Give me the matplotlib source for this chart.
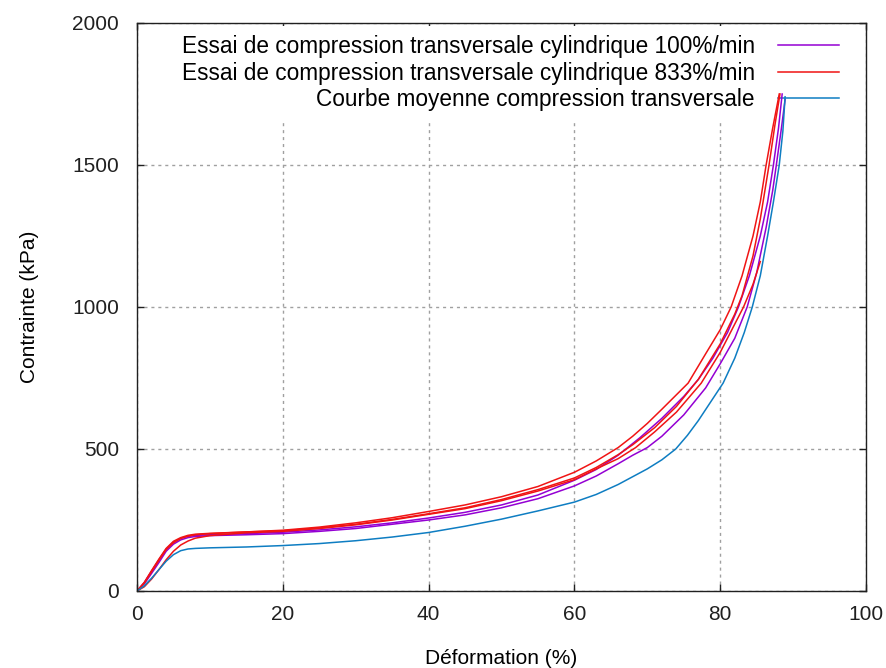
import matplotlib
matplotlib.use('Agg')
import matplotlib.pyplot as plt

plt.rcParams['font.family'] = ['Liberation Sans', 'DejaVu Sans']

# essai 100%/min (violet)
p1_x = [0, 1, 2, 3, 4, 5, 6, 7, 8, 10, 15, 20, 25, 30, 35, 40, 45, 50, 55, 60, 63, 66, 69, 72, 75, 77, 79, 81, 82.5, 84, 85.5, 86.5, 87.3, 88, 88.5]
p1_y = [0, 30, 70, 110, 148, 172, 186, 193, 196, 198, 202, 207, 215, 226, 240, 257, 277, 303, 338, 390, 428, 478, 540, 608, 685, 745, 820, 910, 1000, 1110, 1250, 1370, 1500, 1630, 1750]
p2_x = [0, 1, 2, 3, 4, 5, 6, 7, 8, 10, 15, 20, 25, 30, 35, 40, 45, 50, 55, 60, 63, 66, 68, 70, 72, 75, 78, 80, 82, 83.7, 85, 86.3, 87.2, 87.7, 88.4, 88.9]
p2_y = [0, 25, 62, 100, 140, 165, 180, 188, 192, 195, 198, 202, 210, 220, 235, 250, 268, 293, 325, 370, 405, 448, 478, 505, 545, 620, 715, 800, 890, 1000, 1120, 1280, 1410, 1500, 1630, 1730]

# essai 833%/min (rouge)
ra_x = [0, 1, 2, 3, 4, 5, 6, 7, 8, 10, 15, 20, 25, 30, 35, 40, 45, 50, 55, 60, 63, 66, 68, 70, 72, 75.6, 78, 80, 81.5, 83, 84.5, 85.5, 86.3, 87.2, 88.1]
ra_y = [0, 28, 68, 108, 146, 170, 185, 193, 198, 202, 208, 214, 225, 240, 258, 280, 303, 332, 368, 418, 458, 505, 545, 590, 640, 732, 835, 920, 1000, 1110, 1250, 1370, 1500, 1630, 1750]
rb_x = [0, 1, 2, 3, 4, 5, 6, 7, 8, 10, 15, 20, 25, 30, 35, 40, 45, 50, 55, 60, 63, 66, 68.4, 71, 74, 77.4, 80, 82, 83.2, 84.5, 85.5]
rb_y = [0, 15, 42, 75, 110, 140, 162, 176, 186, 195, 205, 210, 220, 233, 250, 270, 290, 318, 352, 392, 430, 466, 505, 560, 630, 732, 840, 940, 1000, 1080, 1160]
rc_x = [0, 1, 2, 3, 4, 5, 6, 7, 8, 10, 15, 20, 25, 30, 35, 40, 45, 50, 55, 60, 63, 66, 68, 71, 74, 77, 80, 82, 83, 84.5, 85.5, 86.7, 87.5, 88.2]
rc_y = [0, 30, 72, 112, 150, 175, 188, 196, 200, 203, 208, 212, 222, 235, 252, 272, 293, 322, 357, 398, 435, 480, 515, 575, 650, 745, 870, 975, 1040, 1180, 1310, 1500, 1640, 1750]

# courbe moyenne (bleu)
b_x = [0, 1, 2, 3, 4, 5, 6, 7, 8, 10, 15, 20, 25, 30, 35, 40, 45, 50, 55, 60, 63, 66, 70, 72, 73.9, 75.5, 77, 80.4, 82, 83.3, 84.4, 85.5, 86.5, 87.3, 88.1, 88.6, 88.9]
b_y = [0, 18, 45, 75, 105, 128, 142, 148, 150, 152, 155, 160, 167, 177, 190, 206, 228, 253, 282, 313, 340, 375, 430, 462, 500, 548, 600, 732, 820, 910, 1000, 1110, 1250, 1370, 1500, 1620, 1740]

violet = '#9400d3'
rouge = '#f01414'
bleu = '#0e7dc2'

fig = plt.figure(figsize=(8.87, 6.68), dpi=100)
ax = fig.add_axes([137 / 887, 1 - 591 / 668, 729 / 887, 568 / 668])

ax.plot(p1_x, p1_y, color=violet, lw=1.1, label='Essai de compression transversale cylindrique 100%/min')
ax.plot(p2_x, p2_y, color=violet, lw=1.1)
ax.plot(ra_x, ra_y, color=rouge, lw=1.1, label='Essai de compression transversale cylindrique 833%/min')
ax.plot(rb_x, rb_y, color=rouge, lw=1.1)
ax.plot(rc_x, rc_y, color=rouge, lw=1.1)
ax.plot(b_x, b_y, color=bleu, lw=1.1, label='Courbe moyenne compression transversale')

ax.set_xlim(0, 100)
ax.set_ylim(0, 2000)
ax.set_xticks([0, 20, 40, 60, 80, 100])
ax.set_yticks([0, 500, 1000, 1500, 2000])
ax.tick_params(direction='in', length=5, width=1, top=True, right=True, labelsize=15, colors='#202020')
ax.tick_params(axis='x', pad=10)
ax.tick_params(axis='y', pad=13)
for s in ax.spines.values():
    s.set_color('#202020')
    s.set_linewidth(1.0)

ax.set_axisbelow(True)
ax.grid(True, color='#a0a0a0', linestyle=(0, (2.2, 2.8)), linewidth=1.0)

ax.set_xlabel('Déformation (%)', fontsize=15, labelpad=18)
ax.set_ylabel('Contrainte (kPa)', fontsize=15, labelpad=24)

leg = ax.legend(loc='upper right', bbox_to_anchor=(0.975, 0.995), markerfirst=False,
                fontsize=16.3, handlelength=2.7, handletextpad=1.0, labelspacing=0.16,
                borderpad=0.4, borderaxespad=0, frameon=True, fancybox=False,
                facecolor='white', edgecolor='none', framealpha=1)
leg.set_zorder(1)

fig.savefig('out.png', dpi=100)
